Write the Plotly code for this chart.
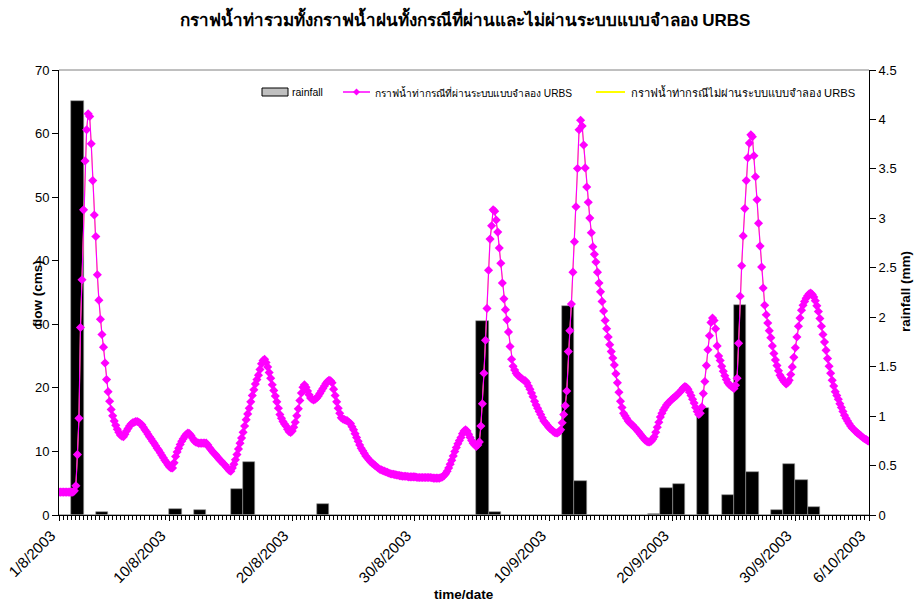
import pandas as pd
import plotly.graph_objects as go

# ---------------- data ----------------
start = pd.Timestamp("2003-08-01")
end = pd.Timestamp("2003-10-06")

# daily rainfall (mm), 1/8/2003 .. 5/10/2003
rain_mm = [0, 4.19, 0, 0.034, 0, 0, 0, 0, 0, 0.064,
           0, 0.054, 0, 0, 0.263, 0.533, 0, 0, 0, 0,
           0, 0.114, 0, 0, 0, 0, 0, 0, 0, 0,
           0, 0, 0, 0, 1.96, 0.034, 0, 0, 0, 0,
           0, 2.11, 0.347, 0, 0, 0, 0, 0, 0.012, 0.276,
           0.313, 0, 1.079, 0, 0.202, 2.12, 0.438, 0, 0.054, 0.516,
           0.357, 0.078, 0, 0, 0, 0]

# flow (cms) every 3 hours from 1/8/2003 00:00 to 6/10/2003 00:00 (one row per day)
flow_cms = [
    3.6, 3.6, 3.6, 3.6, 3.6, 3.6, 3.6, 3.6,
    3.6, 3.6, 3.8, 4.6, 9.5, 15.2, 29.5, 37.0,
    48.0, 55.7, 60.6, 63.1, 62.7, 58.4, 52.6, 47.2,
    43.8, 37.8, 33.8, 30.8, 28.4, 26.4, 23.9, 21.3,
    19.4, 17.9, 16.6, 15.6, 14.8, 14.1, 13.5, 13.0,
    12.6, 12.4, 12.3, 12.7, 13.2, 13.6, 14.0, 14.3,
    14.5, 14.6, 14.7, 14.7, 14.6, 14.4, 14.2, 13.8,
    13.4, 13.1, 12.7, 12.3, 12.0, 11.6, 11.3, 10.9,
    10.5, 10.2, 9.8, 9.4, 9.0, 8.6, 8.3, 7.9,
    7.6, 7.4, 7.4, 8.2, 9.2, 9.9, 10.5, 11.1,
    11.6, 12.0, 12.4, 12.7, 12.9, 12.8, 12.5, 12.1,
    11.7, 11.5, 11.4, 11.3, 11.3, 11.3, 11.3, 11.3,
    11.3, 11.0, 10.6, 10.3, 10.0, 9.7, 9.5, 9.2,
    8.9, 8.6, 8.4, 8.1, 7.9, 7.6, 7.3, 7.0,
    6.9, 7.4, 8.0, 8.7, 9.5, 10.4, 11.3, 12.1,
    13.0, 14.0, 15.0, 15.9, 16.8, 17.8, 18.8, 19.7,
    20.6, 21.3, 22.0, 22.9, 23.8, 24.3, 24.5, 24.0,
    23.3, 22.4, 21.5, 20.5, 19.6, 18.7, 17.8, 16.8,
    15.8, 15.2, 14.7, 14.3, 14.0, 13.5, 13.1, 13.0,
    13.2, 13.8, 14.6, 15.6, 16.7, 18.0, 19.2, 20.1,
    20.5, 20.1, 19.5, 18.9, 18.4, 18.2, 18.1, 18.2,
    18.4, 18.7, 19.1, 19.5, 19.9, 20.3, 20.7, 21.0,
    21.2, 21.1, 20.8, 19.8, 18.8, 17.8, 16.8, 16.0,
    15.3, 15.1, 15.0, 14.9, 14.8, 14.6, 14.4, 13.9,
    13.4, 12.8, 12.2, 11.6, 11.0, 10.5, 10.1, 9.7,
    9.3, 9.0, 8.7, 8.4, 8.2, 8.0, 7.8, 7.6,
    7.4, 7.2, 7.1, 7.0, 6.9, 6.8, 6.7, 6.6,
    6.5, 6.45, 6.4, 6.35, 6.3, 6.25, 6.2, 6.15,
    6.1, 6.1, 6.1, 6.05, 6.0, 6.0, 6.0, 6.0,
    6.0, 5.95, 5.9, 5.9, 5.9, 5.9, 5.9, 5.9,
    5.9, 5.9, 5.9, 5.85, 5.8, 5.8, 5.8, 5.8,
    5.8, 5.9, 6.0, 6.2, 6.5, 6.9, 7.4, 8.0,
    8.6, 9.3, 10.0, 10.6, 11.2, 11.7, 12.2, 12.8,
    13.2, 13.4, 13.2, 12.7, 12.2, 11.7, 11.3, 11.0,
    10.8, 11.0, 11.5, 14.0, 17.5, 22.3, 27.5, 32.5,
    38.5, 43.4, 45.5, 48.0, 47.8, 46.4, 44.5, 42.0,
    39.6, 36.5, 34.0, 32.3, 30.7, 28.8, 26.5, 24.5,
    23.4, 22.8, 22.3, 22.0, 21.8, 21.6, 21.4, 21.2,
    21.1, 20.8, 20.3, 19.8, 19.2, 18.6, 17.9, 17.3,
    16.8, 16.3, 15.8, 15.3, 14.8, 14.5, 14.2, 13.9,
    13.6, 13.4, 13.2, 13.0, 12.9, 12.9, 13.1, 13.4,
    14.5, 15.8, 17.2, 19.5, 25.7, 29.0, 33.2, 38.2,
    43.0, 48.5, 54.5, 60.6, 62.1, 61.2, 58.2, 54.6,
    51.6, 49.2, 46.7, 44.4, 42.2, 41.0, 39.8, 38.2,
    36.5, 35.1, 33.6, 32.1, 30.6, 29.3, 28.0, 26.8,
    25.7, 24.7, 23.6, 22.2, 20.8, 19.3, 17.9, 16.9,
    16.0, 15.6, 15.2, 14.8, 14.5, 14.3, 14.1, 13.8,
    13.6, 13.3, 13.0, 12.7, 12.4, 12.1, 11.8, 11.6,
    11.5, 11.5, 11.6, 11.9, 12.3, 13.0, 13.8, 14.6,
    15.4, 16.0, 16.5, 16.9, 17.3, 17.6, 17.8, 18.1,
    18.3, 18.5, 18.7, 18.9, 19.2, 19.4, 19.7, 20.0,
    20.2, 20.1, 19.8, 19.3, 18.8, 18.2, 17.6, 16.9,
    16.3, 15.8, 16.0, 17.0, 19.1, 21.0, 23.5, 26.0,
    28.2, 30.3, 31.0, 30.6, 29.3, 26.6, 25.0, 24.3,
    23.4, 22.6, 21.9, 21.3, 20.8, 20.5, 20.3, 20.1,
    19.9, 20.4, 21.5, 27.0, 34.4, 39.2, 43.9, 48.2,
    52.6, 56.2, 58.5, 59.8, 59.5, 56.5, 53.2, 49.6,
    45.9, 42.3, 39.0, 35.7, 33.0, 31.5, 30.2, 29.0,
    27.9, 26.6, 25.4, 24.4, 23.5, 22.7, 22.0, 21.6,
    21.2, 20.9, 20.6, 20.8, 21.2, 22.1, 23.3, 24.8,
    26.3, 28.0, 29.7, 31.0, 32.2, 33.0, 33.6, 34.1,
    34.5, 34.8, 34.9, 34.7, 34.3, 33.7, 32.9, 32.0,
    30.9, 29.7, 28.4, 27.2, 25.9, 24.6, 23.4, 22.3,
    21.2, 20.3, 19.4, 18.8, 18.2, 17.5, 16.9, 16.3,
    15.7, 15.2, 14.8, 14.4, 14.0, 13.7, 13.5, 13.2,
    13.0, 12.8, 12.6, 12.4, 12.2, 12.0, 11.9, 11.7,
    11.6,
]

tick_dates = ["2003-08-01", "2003-08-10", "2003-08-20", "2003-08-30",
              "2003-09-10", "2003-09-20", "2003-09-30", "2003-10-06"]
tick_labels = ["1/8/2003", "10/8/2003", "20/8/2003", "30/8/2003",
               "10/9/2003", "20/9/2003", "30/9/2003", "6/10/2003"]

title_text = "กราฟน้ำท่ารวมทั้งกราฟน้ำฝนทั้งกรณีที่ผ่านและไม่ผ่านระบบแบบจำลอง URBS"
name_rain = "rainfall"
name_urbs = "กราฟน้ำท่ากรณีที่ผ่านระบบแบบจำลอง URBS"
name_no_urbs = "กราฟน้ำท่ากรณีไม่ผ่านระบบแบบจำลอง URBS"

# ---------------- build ----------------
rain_x = pd.date_range(start + pd.Timedelta(hours=12), periods=len(rain_mm), freq="D")
flow_x = pd.date_range(start, periods=len(flow_cms), freq="3h")

FONT = "Arial, Liberation Sans, DejaVu Sans, sans-serif"
MAGENTA = "#ff00ff"
YELLOW = "#ffff00"

fig = go.Figure()

fig.add_trace(go.Bar(x=rain_x, y=rain_mm, name=name_rain, yaxis="y",
                     width=86400000, showlegend=False,
                     marker=dict(color="black", line=dict(color="#9a9a9a", width=0.6))))
# series without URBS (hidden beneath the URBS series in the original)
fig.add_trace(go.Scatter(x=flow_x, y=flow_cms, name=name_no_urbs, yaxis="y2",
                         mode="lines", line=dict(color=YELLOW, width=1),
                         showlegend=False))
fig.add_trace(go.Scatter(x=flow_x, y=flow_cms, name=name_urbs, yaxis="y2",
                         mode="lines+markers",
                         line=dict(color=MAGENTA, width=1.2),
                         marker=dict(symbol="diamond", size=7, color=MAGENTA,
                                     line=dict(width=0)),
                         showlegend=False))

fig.update_layout(
    width=919, height=602,
    margin=dict(l=59, r=50, t=70, b=87, autoexpand=False),
    paper_bgcolor="white", plot_bgcolor="white",
    font=dict(family=FONT, color="black", size=12),
    bargap=0,
    showlegend=False,
    title=dict(text="<b>" + title_text + "</b>", x=0.506, xanchor="center",
               y=0.966, yanchor="middle", font=dict(size=17, family=FONT)),
    xaxis=dict(type="date", range=[start, end], automargin=False,
               tickmode="array", tickvals=tick_dates, ticktext=tick_labels,
               tickangle=-45, tickfont=dict(size=15), ticklabelshift=-8,
               ticks="outside", ticklen=5, tickcolor="black",
               minor=dict(ticks="outside", ticklen=4, dtick=8 * 3600000, tickcolor="black"),
               showline=True, linecolor="black", linewidth=1,
               showgrid=False, zeroline=False, mirror=False),
    yaxis=dict(range=[0, 4.5], side="right", automargin=False,
               tickvals=[0, 0.5, 1, 1.5, 2, 2.5, 3, 3.5, 4, 4.5],
               ticktext=["0", "0.5", "1", "1.5", "2", "2.5", "3", "3.5", "4", "4.5"],
               ticks="outside", ticklen=6, tickcolor="black", tickfont=dict(size=13),
               showline=True, linecolor="black", linewidth=1,
               showgrid=False, zeroline=False),
    yaxis2=dict(range=[0, 70], side="left", overlaying="y", dtick=10, automargin=False,
                ticks="outside", ticklen=6, tickcolor="black", tickfont=dict(size=13),
                showline=True, linecolor="black", linewidth=1,
                showgrid=False, zeroline=False),
)

# top border of plot area
fig.add_shape(type="line", xref="paper", yref="paper", x0=0, x1=1, y0=1, y1=1,
              line=dict(color="#808080", width=1))


# ---- legend (drawn inside plot, like the original) ----
def px_x(p):
    return (p - 59) / 810.0


def px_y(p):
    return (515 - p) / 445.0


LY = 92
LEG_FONT = dict(size=10.5, family=FONT, color="black")
fig.add_shape(type="rect", xref="paper", yref="paper",
              x0=px_x(262), x1=px_x(288), y0=px_y(96), y1=px_y(88),
              fillcolor="#c0c0c0", line=dict(color="black", width=1))
fig.add_annotation(text=name_rain, xref="paper", yref="paper", x=px_x(290), y=px_y(LY),
                   xanchor="left", yanchor="middle", showarrow=False, font=LEG_FONT)
fig.add_shape(type="line", xref="paper", yref="paper",
              x0=px_x(343), x1=px_x(370), y0=px_y(LY), y1=px_y(LY),
              line=dict(color=MAGENTA, width=1.5))
cx, cy = 356.5, LY
fig.add_shape(type="path", xref="paper", yref="paper",
              path="M {:.5f},{:.5f} L {:.5f},{:.5f} L {:.5f},{:.5f} L {:.5f},{:.5f} Z".format(
                  px_x(cx - 3.5), px_y(cy), px_x(cx), px_y(cy - 3.5),
                  px_x(cx + 3.5), px_y(cy), px_x(cx), px_y(cy + 3.5)),
              fillcolor=MAGENTA, line=dict(color=MAGENTA, width=0))
fig.add_annotation(text=name_urbs, xref="paper", yref="paper", x=px_x(373), y=px_y(LY),
                   xanchor="left", yanchor="middle", showarrow=False,
                   font=dict(size=10.2, family=FONT, color="black"))
fig.add_shape(type="line", xref="paper", yref="paper",
              x0=px_x(596), x1=px_x(625), y0=px_y(LY), y1=px_y(LY),
              line=dict(color=YELLOW, width=2))
fig.add_annotation(text=name_no_urbs, xref="paper", yref="paper", x=px_x(629), y=px_y(LY),
                   xanchor="left", yanchor="middle", showarrow=False,
                   font=dict(size=11.2, family=FONT, color="black"))

# axis titles
fig.add_annotation(text="<b>flow (cms)</b>", xref="paper", yref="paper",
                   x=px_x(37), y=px_y(294), textangle=-90, showarrow=False,
                   xanchor="center", yanchor="middle", font=dict(size=13.5))
fig.add_annotation(text="<b>rainfall (mm)</b>", xref="paper", yref="paper",
                   x=px_x(905), y=px_y(292), textangle=-90, showarrow=False,
                   xanchor="center", yanchor="middle", font=dict(size=13.5))
fig.add_annotation(text="<b>time/date</b>", xref="paper", yref="paper",
                   x=px_x(464), y=px_y(594), showarrow=False,
                   xanchor="center", yanchor="middle", font=dict(size=13.5))

fig.write_html("out.html", config={"displayModeBar": False},
               post_script="document.body.style.margin='0px';")
